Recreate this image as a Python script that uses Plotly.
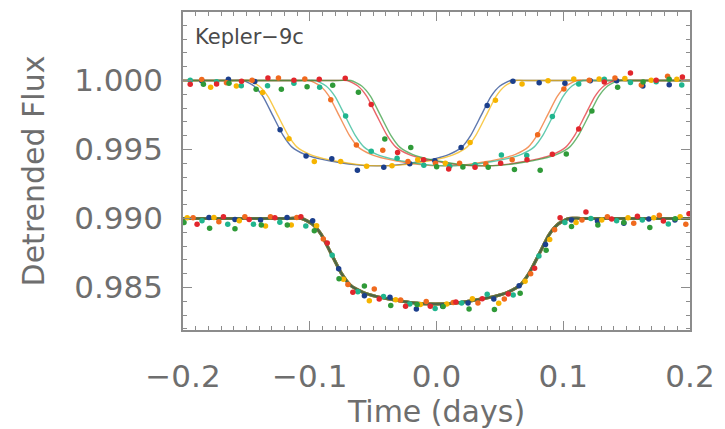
import plotly.graph_objects as go

# ---------------- data ----------------
colors = {
    "blue": "#1b3f8c", "yellow": "#f6b400", "orange": "#f06a1e",
    "teal": "#20b58e", "red": "#e2262c", "green": "#2f9a38",
}

# transit model template: half-time from mid-transit (days) and flux drop
tmpl_dt = [0.0, 0.020, 0.033, 0.046, 0.057, 0.067, 0.074, 0.082, 0.090, 0.097, 0.1055, 0.115]
tmpl_drop = [0.00619, 0.00608, 0.00589, 0.00566, 0.00535, 0.00483, 0.00398, 0.00257, 0.00115, 0.00040, 0.0, 0.0]

# mid-transit times of individual transits (upper set) and of the stacked set
upper_mid = {"blue": -0.047, "yellow": -0.043, "orange": 0.0053, "teal": 0.0099, "red": 0.035, "green": 0.038}
lower_mid = -0.001
upper_base = 1.000
lower_base = 0.990

# upper: individual transits
blue_up_t = [-0.1852, -0.1642, -0.1434, -0.1234, -0.1029, -0.0826, -0.0624, -0.0416, -0.0211, -0.0013, 0.0194, 0.0400, 0.0603, 0.0810, 0.1013, 0.1213, 0.1421, 0.1628, 0.1836]
blue_up_f = [0.99997, 1.00009, 0.99993, 0.99642, 0.99453, 0.99433, 0.99350, 0.99371, 0.99396, 0.99419, 0.99514, 0.99818, 0.99995, 0.99983, 0.99979, 0.99997, 0.99997, 0.99960, 0.99969]
yellow_up_t = [-0.1782, -0.1579, -0.1372, -0.1164, -0.0964, -0.0756, -0.0551, -0.0351, -0.0148, 0.0070, 0.0265, 0.0465, 0.0675, 0.0880, 0.1083, 0.1283, 0.1486, 0.1694, 0.1896]
yellow_up_f = [0.99951, 0.99960, 0.99912, 0.99578, 0.99413, 0.99413, 0.99379, 0.99382, 0.99425, 0.99401, 0.99550, 0.99856, 0.99974, 0.99997, 1.00011, 1.00011, 1.00014, 1.00002, 1.00009]
orange_up_t = [-0.1852, -0.1657, -0.1455, -0.1247, -0.1039, -0.0834, -0.0632, -0.0424, -0.0225, -0.0008, 0.0182, 0.0389, 0.0597, 0.0798, 0.1005, 0.1205, 0.1408, 0.1616, 0.1823]
orange_up_f = [1.00007, 0.99983, 1.00002, 1.00018, 1.00011, 0.99861, 0.99533, 0.99495, 0.99413, 0.99401, 0.99401, 0.99394, 0.99425, 0.99606, 0.99938, 1.00002, 1.00018, 0.99967, 1.00030]
teal_up_t = [-0.1943, -0.1735, -0.1540, -0.1333, -0.1125, -0.0922, -0.0717, -0.0515, -0.0311, -0.0100, 0.0104, 0.0304, 0.0512, 0.0712, 0.0914, 0.1122, 0.1324, 0.1530, 0.1733, 0.1935]
teal_up_f = [1.00002, 0.99990, 0.99962, 0.99962, 0.99979, 0.99951, 0.99743, 0.99488, 0.99437, 0.99386, 0.99378, 0.99389, 0.99460, 0.99456, 0.99738, 0.99974, 1.00009, 0.99986, 0.99990, 0.99967]
red_up_t = [-0.1943, -0.1735, -0.1538, -0.1330, -0.1125, -0.0925, -0.0720, -0.0515, -0.0307, -0.0102, 0.0096, 0.0304, 0.0506, 0.0714, 0.0914, 0.1122, 0.1324, 0.1530, 0.1733, 0.1940]
red_up_f = [0.99972, 0.99974, 0.99995, 1.00018, 1.00002, 1.00009, 1.00016, 0.99825, 0.99478, 0.99425, 0.99359, 0.99371, 0.99401, 0.99425, 0.99465, 0.99649, 0.99988, 1.00054, 1.00002, 1.00025]
green_up_t = [-0.1839, -0.1637, -0.1423, -0.1224, -0.1021, -0.0819, -0.0616, -0.0408, -0.0203, 0.0001, 0.0208, 0.0408, 0.0615, 0.0818, 0.1024, 0.1226, 0.1429, 0.1630, 0.1836]
green_up_f = [0.99972, 0.99979, 0.99936, 0.99936, 0.99955, 0.99965, 0.99915, 0.99576, 0.99514, 0.99375, 0.99373, 0.99371, 0.99354, 0.99350, 0.99467, 0.99778, 0.99951, 0.99988, 1.00009]

# lower: stacked (TTV-corrected) transits, offset by -0.01
blue_lo_t = [-0.1795, -0.1590, -0.1388, -0.1179, -0.0977, -0.0772, -0.0569, -0.0367, -0.0159, 0.0049, 0.0249, 0.0452, 0.0652, 0.0860, 0.1065, 0.1270, 0.1478, 0.1675, 0.1881]
blue_lo_f = [0.99007, 0.98993, 0.98989, 0.99007, 0.98984, 0.98635, 0.98441, 0.98430, 0.98345, 0.98364, 0.98388, 0.98416, 0.98512, 0.98812, 0.98989, 0.98982, 0.98965, 0.98996, 0.98989]
green_lo_t = [-0.1992, -0.1790, -0.1590, -0.1382, -0.1177, -0.0964, -0.0769, -0.0569, -0.0361, -0.0153, 0.0052, 0.0257, 0.0457, 0.0660, 0.0865, 0.1065, 0.1273, 0.1478, 0.1683, 0.1883]
green_lo_f = [0.98970, 0.98929, 0.98925, 0.98953, 0.98953, 0.98911, 0.98564, 0.98510, 0.98369, 0.98376, 0.98362, 0.98345, 0.98340, 0.98458, 0.98770, 0.98941, 0.98953, 0.98970, 0.98934, 0.98998]
yellow_lo_t = [-0.1967, -0.1756, -0.1556, -0.1349, -0.1146, -0.0946, -0.0735, -0.0530, -0.0322, -0.0127, 0.0081, 0.0283, 0.0491, 0.0699, 0.0893, 0.1101, 0.1304, 0.1511, 0.1714, 0.1922]
yellow_lo_f = [0.99005, 0.99007, 0.98984, 0.98946, 0.98953, 0.98948, 0.98560, 0.98404, 0.98411, 0.98376, 0.98381, 0.98418, 0.98385, 0.98545, 0.98847, 0.98970, 0.98989, 0.99005, 0.99005, 0.99012]
orange_lo_t = [-0.1920, -0.1717, -0.1512, -0.1310, -0.1102, -0.0893, -0.0699, -0.0491, -0.0283, -0.0081, 0.0132, 0.0327, 0.0535, 0.0743, 0.0932, 0.1148, 0.1348, 0.1556, 0.1758, 0.1967]
orange_lo_f = [0.99005, 0.98977, 0.99012, 0.99012, 0.99007, 0.98852, 0.98522, 0.98489, 0.98409, 0.98399, 0.98392, 0.98388, 0.98416, 0.98600, 0.98918, 0.98989, 0.99012, 0.98965, 0.99024, 0.98958]
red_lo_t = [-0.1889, -0.1681, -0.1478, -0.1275, -0.1070, -0.0862, -0.0660, -0.0452, -0.0244, -0.0049, 0.0153, 0.0361, 0.0566, 0.0774, 0.0975, 0.1179, 0.1382, 0.1585, 0.1790, 0.1992]
red_lo_f = [0.98958, 0.99012, 0.98993, 0.99005, 0.99012, 0.98823, 0.98465, 0.98416, 0.98364, 0.98364, 0.98395, 0.98418, 0.98453, 0.98639, 0.99006, 0.99047, 0.98996, 0.99017, 0.98982, 0.99035]
teal_lo_t = [-0.1850, -0.1647, -0.1444, -0.1236, -0.1031, -0.0823, -0.0621, -0.0418, -0.0211, -0.0011, 0.0198, 0.0400, 0.0605, 0.0808, 0.1013, 0.1218, 0.1421, 0.1624, 0.1829]
teal_lo_f = [0.98984, 0.98958, 0.98958, 0.98972, 0.98946, 0.98734, 0.98470, 0.98434, 0.98381, 0.98347, 0.98388, 0.98451, 0.98446, 0.98729, 0.98970, 0.99000, 0.98984, 0.98989, 0.98960]

x_range = [-0.2, 0.2]
y_range = [0.98192, 1.00496]
x_ticks = [-0.2, -0.1, 0.0, 0.1, 0.2]
y_ticks = [0.985, 0.990, 0.995, 1.000]
y_ticktext = ["0.985", "0.990", "0.995", "1.000"]

upper_pts = {
    "blue": (blue_up_t, blue_up_f), "yellow": (yellow_up_t, yellow_up_f),
    "orange": (orange_up_t, orange_up_f), "teal": (teal_up_t, teal_up_f),
    "red": (red_up_t, red_up_f), "green": (green_up_t, green_up_f),
}
lower_pts = {
    "blue": (blue_lo_t, blue_lo_f), "yellow": (yellow_lo_t, yellow_lo_f),
    "orange": (orange_lo_t, orange_lo_f), "teal": (teal_lo_t, teal_lo_f),
    "red": (red_lo_t, red_lo_f), "green": (green_lo_t, green_lo_f),
}


def model_curve(mid, base):
    xs = [x_range[0]]
    ys = [base]
    for dt, dr in zip(reversed(tmpl_dt), reversed(tmpl_drop)):
        xs.append(mid - dt)
        ys.append(base - dr)
    for dt, dr in zip(tmpl_dt[1:], tmpl_drop[1:]):
        xs.append(mid + dt)
        ys.append(base - dr)
    xs.append(x_range[1])
    ys.append(base)
    return xs, ys


fig = go.Figure()

order = ["blue", "yellow", "orange", "teal", "red", "green"]

# model lines, upper
for name in order:
    xs, ys = model_curve(upper_mid[name], upper_base)
    fig.add_trace(go.Scatter(x=xs, y=ys, mode="lines",
                             line=dict(color=colors[name], width=1.4, shape="spline", smoothing=0.6),
                             opacity=0.7, hoverinfo="skip"))
# model lines, lower (all overlapping)
for name in order:
    xs, ys = model_curve(lower_mid, lower_base)
    fig.add_trace(go.Scatter(x=xs, y=ys, mode="lines",
                             line=dict(color=colors[name], width=3, shape="spline", smoothing=0.6),
                             opacity=0.55, hoverinfo="skip"))
xs, ys = model_curve(lower_mid, lower_base)
fig.add_trace(go.Scatter(x=xs, y=ys, mode="lines",
                         line=dict(color="#4a6148", width=1.5, shape="spline", smoothing=0.6),
                         hoverinfo="skip"))

# data points
for name in order:
    for pts in (upper_pts[name], lower_pts[name]):
        fig.add_trace(go.Scatter(x=pts[0], y=pts[1], mode="markers",
                                 marker=dict(color=colors[name], size=5.5, line=dict(width=0)),
                                 hoverinfo="skip"))

axis_col = "#8c8c8c"
font_fam = "DejaVu Sans"
txt_col = "#6e6e6e"

fig.update_layout(
    width=725, height=429,
    margin=dict(l=183, r=29, t=10, b=93),
    paper_bgcolor="white", plot_bgcolor="white",
    showlegend=False,
    font=dict(family=font_fam, color=txt_col),
    xaxis=dict(
        range=x_range, tickvals=x_ticks, tickformat=".1f",
        showgrid=False, zeroline=False,
        showline=True, linecolor=axis_col, linewidth=1.5, mirror="ticks",
        ticks="inside", ticklen=9, tickwidth=1.2, tickcolor=axis_col,
        minor=dict(dtick=0.01, ticks="inside", ticklen=4, tickwidth=1, tickcolor=axis_col, showgrid=False),
        tickfont=dict(size=31, color=txt_col, family=font_fam),
        ticklabelstandoff=18,
        title=dict(text="Time (days)", font=dict(size=30, color=txt_col, family=font_fam), standoff=4),
    ),
    yaxis=dict(
        range=y_range, tickvals=y_ticks, ticktext=y_ticktext,
        showgrid=False, zeroline=False,
        showline=True, linecolor=axis_col, linewidth=1.5, mirror="ticks",
        ticks="inside", ticklen=9, tickwidth=1.2, tickcolor=axis_col,
        minor=dict(dtick=0.001, tick0=0.98, ticks="inside", ticklen=4, tickwidth=1, tickcolor=axis_col, showgrid=False),
        tickfont=dict(size=31, color=txt_col, family=font_fam),
        ticklabelstandoff=12,
        title=dict(text="Detrended Flux", font=dict(size=30, color=txt_col, family=font_fam), standoff=21),
    ),
    annotations=[dict(
        text="Kepler\u22129c", xref="paper", yref="paper", x=0.02, y=0.92,
        xanchor="left", yanchor="middle", showarrow=False,
        font=dict(size=21, color="#4a4a4a", family=font_fam),
    )],
)

fig.write_html("out.html")
